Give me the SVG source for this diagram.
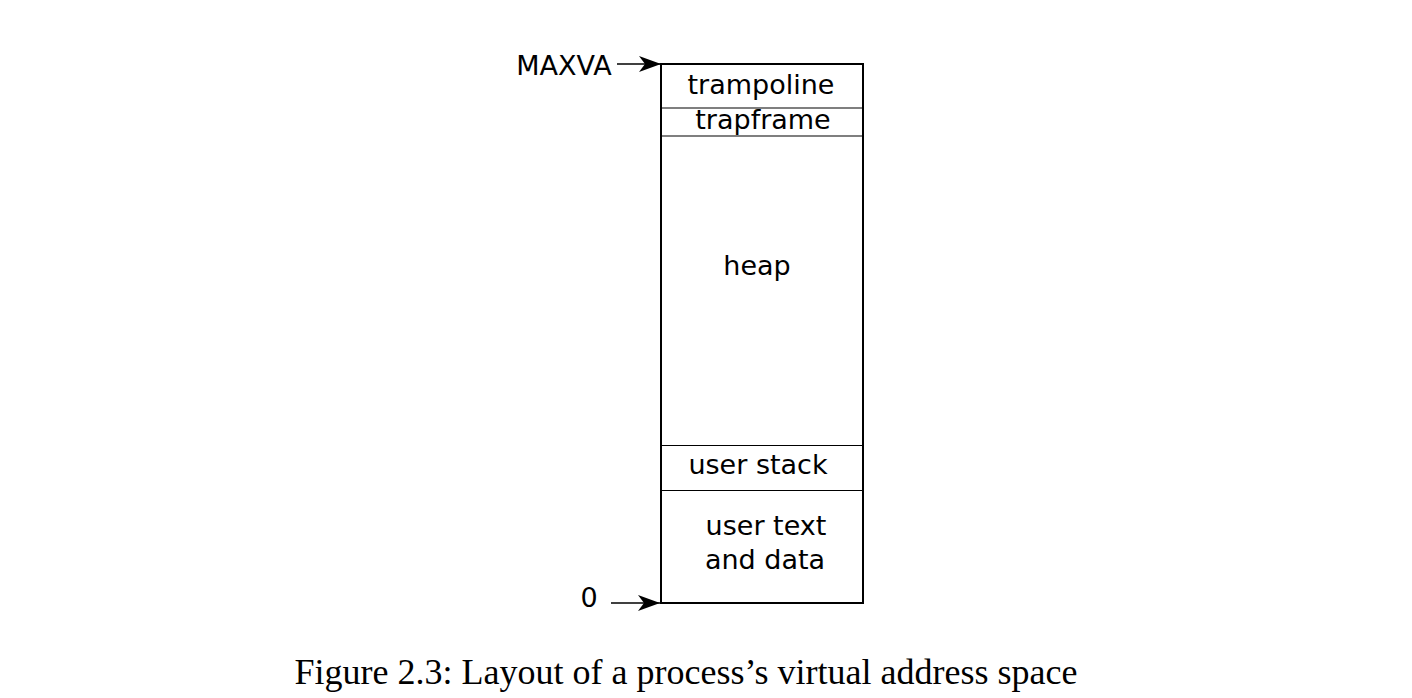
<svg xmlns="http://www.w3.org/2000/svg" width="1412" height="698" viewBox="0 0 1412 698">
<style>
.lbl{font-family:"DejaVu Sans",sans-serif;font-size:27px;fill:#000;text-anchor:middle}
.cap{font-family:"Liberation Serif",serif;font-size:36px;fill:#000;text-anchor:middle}
.div{stroke:#000;stroke-width:1.2;fill:none}
.arr{stroke:#000;stroke-width:1.5;fill:none;marker-end:url(#ah)}
</style>
<defs>
<marker id="ah" markerUnits="userSpaceOnUse" markerWidth="26" markerHeight="18" refX="22" refY="8" orient="auto">
<path d="M0,0 L22,8 L0,16 L6,8 Z" fill="#000"/>
</marker>
</defs>
<rect width="1412" height="698" fill="#fff"/>
<g id="memory">
<rect x="661" y="64" width="202" height="539" fill="#fff" stroke="#000" stroke-width="2"/>
<line class="div" x1="661" y1="108" x2="863" y2="108"/>
<line class="div" x1="661" y1="136" x2="863" y2="136"/>
<line class="div" x1="661" y1="445.5" x2="863" y2="445.5"/>
<line class="div" x1="661" y1="490.5" x2="863" y2="490.5"/>
</g>
<g id="trampoline"><text class="lbl" x="761" y="94">trampoline</text></g>
<g id="trapframe"><text class="lbl" x="763" y="129">trapframe</text></g>
<g id="heap"><text class="lbl" x="757" y="275">heap</text></g>
<g id="userstack"><text class="lbl" x="758" y="474">user stack</text></g>
<g id="usertext"><text class="lbl" x="766" y="535">user text</text><text class="lbl" x="765" y="569">and data</text></g>
<g id="maxva"><text class="lbl" x="564" y="75">MAXVA</text></g>
<g id="zero"><text class="lbl" x="589" y="607">0</text></g>
<g id="connectors">
<line class="arr" x1="617" y1="64" x2="661" y2="64"/>
<line class="arr" x1="611" y1="603" x2="660" y2="603"/>
</g>
<g id="caption"><text class="cap" x="686" y="684">Figure 2.3: Layout of a process’s virtual address space</text></g>
</svg>
